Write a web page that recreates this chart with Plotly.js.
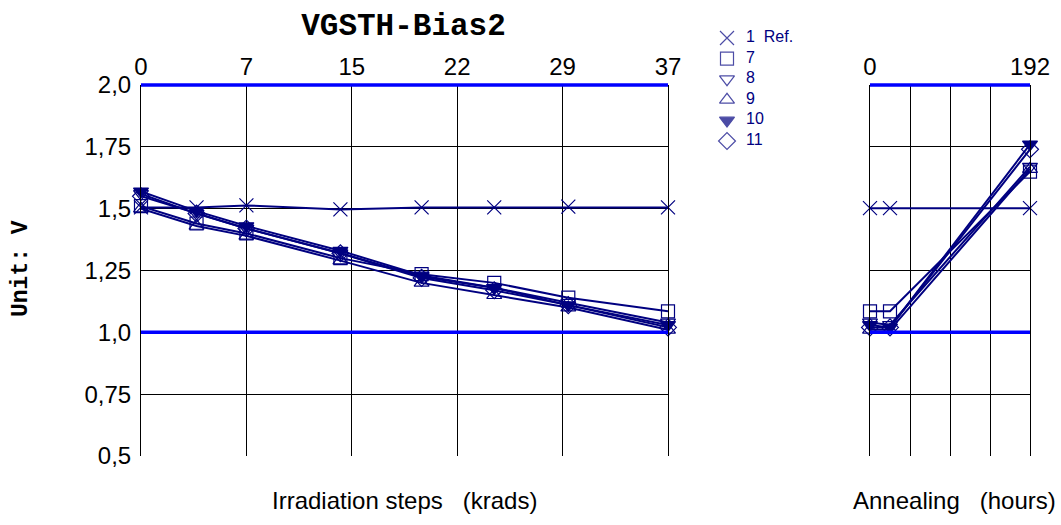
<!DOCTYPE html>
<html><head><meta charset="utf-8">
<script src="https://cdn.plot.ly/plotly-3.0.1.min.js"></script>
<style>body{margin:0;background:#fff}</style></head>
<body><div id="chart" style="width:1061px;height:525px"></div>
<script>
// Irradiation steps (krads) and annealing times (hours)
const xIrr = [0, 3.9, 7.4, 14, 19.7, 24.8, 30, 37];
const xAnn = [0, 24, 192];
const irrRange = [0, 37];
const annRange = [0, 192];
const irrTickVals = [0, 7.4, 14.8, 22.2, 29.6, 37];
const irrTickText = ['0', '7', '15', '22', '29', '37'];
const annTickVals = [0, 48, 96, 144, 192];
const annTickText = ['0', '', '', '', '192'];
const yRange = [0.5, 2.0];
const yTickVals = [0.5, 0.75, 1.0, 1.25, 1.5, 1.75, 2.0];
const yTickText = ['0,5', '0,75', '1,0', '1,25', '1,5', '1,75', '2,0'];
const limitLines = [1.0, 2.0];

const seriesNames = ['1\u00a0\u00a0Ref.', '7', '8', '9', '10', '11'];
const ref1Irr = [1.505, 1.505, 1.513, 1.497, 1.505, 1.505, 1.508, 1.505];
const ref1Ann = [1.502, 1.502, 1.502];
const s7Irr = [1.51, 1.44, 1.40, 1.30, 1.235, 1.20, 1.14, 1.085];
const s7Ann = [1.085, 1.085, 1.65];
const s8Irr = [1.56, 1.48, 1.42, 1.32, 1.225, 1.18, 1.12, 1.04];
const s8Ann = [1.04, 1.03, 1.67];
const s9Irr = [1.50, 1.43, 1.39, 1.29, 1.20, 1.15, 1.10, 1.01];
const s9Ann = [1.01, 1.01, 1.66];
const s10Irr = [1.57, 1.49, 1.43, 1.33, 1.23, 1.18, 1.11, 1.03];
const s10Ann = [1.03, 1.02, 1.76];
const s11Irr = [1.55, 1.48, 1.42, 1.32, 1.22, 1.17, 1.11, 1.02];
const s11Ann = [1.02, 1.02, 1.74];

const irrData = [ref1Irr, s7Irr, s8Irr, s9Irr, s10Irr, s11Irr];
const annData = [ref1Ann, s7Ann, s8Ann, s9Ann, s10Ann, s11Ann];
const symbols = ['x-thin-open', 'square-open', 'triangle-down-open', 'triangle-up-open', 'triangle-down', 'diamond-open'];
const sizes = [14, 13, 13, 13, 13, 13];

const NAVY = '#000080';
const BLUE = '#0000FF';
const FONT = '"Liberation Sans", Arial, sans-serif';
const MONO = '"Liberation Mono", "Courier New", monospace';
const W = 1061, H = 525;
// plot-area pixel layout
const PX = {l: 141, r1: 668, l2: 870, r2: 1030, top: 85, bottom: 456};

const traces = [];
seriesNames.forEach((name, i) => {
  const marker = {symbol: symbols[i], size: sizes[i], color: NAVY, line: {color: NAVY, width: 1.2}};
  traces.push({x: xIrr, y: irrData[i], xaxis: 'x', yaxis: 'y', mode: 'lines+markers', name: name,
    showlegend: false, cliponaxis: false, line: {color: NAVY, width: 2}, marker: marker});
  traces.push({x: xAnn, y: annData[i], xaxis: 'x2', yaxis: 'y', mode: 'lines+markers', name: name,
    showlegend: false, cliponaxis: false, line: {color: NAVY, width: 2}, marker: marker});
});
// legend drawn as its own small hidden subplot
const legendIdx = seriesNames.map((_, i) => i);
traces.push({x: legendIdx.map(() => 0), y: legendIdx, xaxis: 'x3', yaxis: 'y3', mode: 'markers',
  showlegend: false, cliponaxis: false, hoverinfo: 'skip',
  marker: {symbol: symbols, size: sizes, color: NAVY, line: {color: NAVY, width: 1.2}}});
traces.push({x: legendIdx.map(() => 19), y: legendIdx, xaxis: 'x3', yaxis: 'y3', mode: 'text',
  text: seriesNames, textposition: 'middle right', showlegend: false, cliponaxis: false, hoverinfo: 'skip',
  textfont: {family: FONT, size: 16, color: NAVY}});

// limit lines at 1,0 and 2,0 (positioned through the y range, unclipped at the frame edge)
const shapes = [];
limitLines.forEach(v => {
  const f = (v - yRange[0]) / (yRange[1] - yRange[0]);
  ['x domain', 'x2 domain'].forEach(xr => {
    shapes.push({type: 'line', xref: xr, x0: 0, x1: 1, yref: 'y domain', y0: f, y1: f,
      line: {color: BLUE, width: 3.5}, layer: 'above'});
  });
});

const axisCommon = {ticks: '', showgrid: true, gridcolor: '#000', gridwidth: 1, zeroline: false,
  showline: false, tickfont: {family: FONT, size: 24, color: '#000'}, automargin: false};

const layout = {
  width: W, height: H,
  margin: {l: 0, r: 0, t: 0, b: 0},
  paper_bgcolor: '#fff', plot_bgcolor: 'rgba(0,0,0,0)',
  font: {family: FONT, size: 24, color: '#000'},
  showlegend: false,
  shapes: shapes,
  title: {text: '<b>VGSTH-Bias2</b>', font: {family: MONO, size: 31, color: '#000'},
    xref: 'paper', x: 403.5 / W, xanchor: 'center', yref: 'container', y: 1 - 24 / H, yanchor: 'middle'},
  xaxis: Object.assign({}, axisCommon, {domain: [PX.l / W, PX.r1 / W], range: irrRange, side: 'top', anchor: 'y',
    tickmode: 'array', tickvals: irrTickVals, ticktext: irrTickText, ticklabelstandoff: 4}),
  xaxis2: Object.assign({}, axisCommon, {domain: [PX.l2 / W, PX.r2 / W], range: annRange, side: 'top', anchor: 'y',
    tickmode: 'array', tickvals: annTickVals, ticktext: annTickText, ticklabelstandoff: 4}),
  yaxis: Object.assign({}, axisCommon, {domain: [1 - PX.bottom / H, 1 - PX.top / H], range: yRange, anchor: 'x',
    tickmode: 'array', tickvals: yTickVals, ticktext: yTickText,
    showline: true, linecolor: '#000', linewidth: 1, mirror: 'all', ticklabelstandoff: 4}),
  xaxis3: {domain: [700 / W, 840 / W], range: [-27, 113], visible: false, fixedrange: true},
  yaxis3: {domain: [1 - 151.3 / H, 1 - 27.7 / H], range: [5.5, -0.5], visible: false, fixedrange: true, anchor: 'x3'},
  annotations: [
    {text: '<b>Unit: V</b>', xref: 'paper', yref: 'paper', x: 21 / W, y: 1 - 269 / H,
      xanchor: 'center', yanchor: 'middle',
      textangle: -90, showarrow: false, font: {family: MONO, size: 23, color: '#000'}},
    {text: 'Irradiation steps\u00a0\u00a0\u00a0(krads)', xref: 'paper', yref: 'paper', x: 404 / W, y: 1 - 500 / H,
      xanchor: 'center', yanchor: 'middle', showarrow: false, font: {family: FONT, size: 24, color: '#000'}},
    {text: 'Annealing\u00a0\u00a0\u00a0(hours)', xref: 'paper', yref: 'paper', x: 954 / W, y: 1 - 500 / H,
      xanchor: 'center', yanchor: 'middle', showarrow: false, font: {family: FONT, size: 24, color: '#000'}}
  ]
};
Plotly.newPlot('chart', traces, layout, {displayModeBar: false, staticPlot: true});
</script></body></html>
